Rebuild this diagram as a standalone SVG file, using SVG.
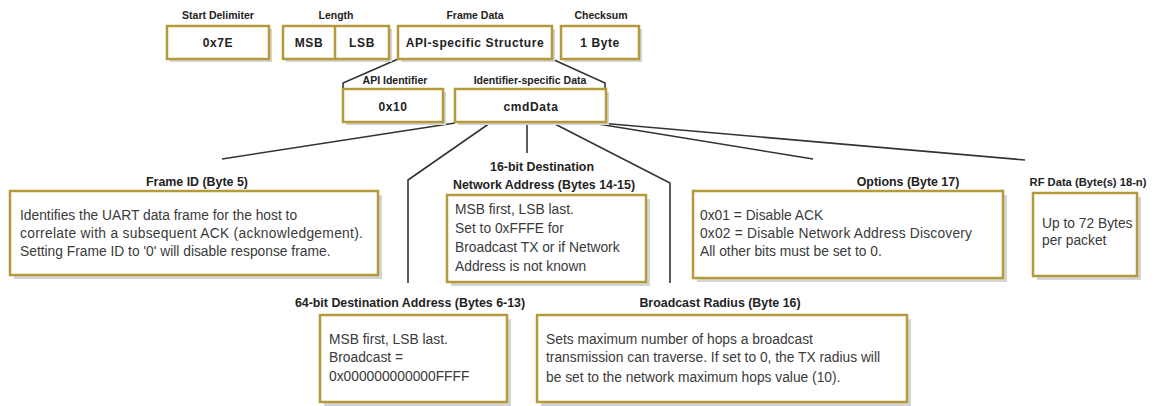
<svg xmlns="http://www.w3.org/2000/svg" width="1156" height="406" viewBox="0 0 1156 406">
<defs>
<style>
.box{fill:#ffffff;stroke:#b59a3c;stroke-width:2.5}
.sh{fill:#d4d4d4}
.conn{fill:none;stroke:#333333;stroke-width:1.6}
.ttl{font-family:"Liberation Sans",Arial,sans-serif;font-weight:bold;font-size:10.5px;fill:#222;text-anchor:middle}
.in{font-family:"Liberation Sans",Arial,sans-serif;font-weight:bold;font-size:12px;fill:#222;text-anchor:middle;letter-spacing:0.6px}
.lbl{font-family:"Liberation Sans",Arial,sans-serif;font-weight:bold;font-size:12.4px;fill:#222;text-anchor:middle}
.body{font-family:"Liberation Sans",Arial,sans-serif;font-size:13.8px;fill:#3a3a3a}
</style>
</defs>
<rect width="1156" height="406" fill="#ffffff"/>
<g id="connectors">
<polyline class="conn" points="398,59 343,83 343,89"/>
<polyline class="conn" points="552,59 605,83 605,89"/>
<polyline class="conn" points="455,123 222,159"/>
<polyline class="conn" points="490,123 408,180 408,283"/>
<polyline class="conn" points="527,123 527,153"/>
<polyline class="conn" points="553,123 670,183 670,283"/>
<polyline class="conn" points="592,123 813,159"/>
<polyline class="conn" points="600,123 1025,160"/>
</g>
<g id="start-delimiter">
<text class="ttl" x="218" y="19">Start Delimiter</text>
<rect class="sh" x="170" y="29" width="102" height="33"/>
<rect class="box" x="167" y="26" width="102" height="33"/>
<text class="in" x="218" y="47">0x7E</text>
</g>
<g id="length">
<text class="ttl" x="336" y="19">Length</text>
<rect class="sh" x="286" y="29" width="106" height="33"/>
<rect class="box" x="283" y="26" width="106" height="33"/>
<line x1="335" y1="26" x2="335" y2="59" stroke="#b59a3c" stroke-width="2.5"/>
<text class="in" x="309" y="47">MSB</text>
<text class="in" x="362" y="47">LSB</text>
</g>
<g id="frame-data">
<text class="ttl" x="475" y="19">Frame Data</text>
<rect class="sh" x="401" y="29" width="154" height="33"/>
<rect class="box" x="398" y="26" width="154" height="33"/>
<text class="in" x="475" y="47" letter-spacing="0.3">API-specific Structure</text>
</g>
<g id="checksum">
<text class="ttl" x="601" y="19">Checksum</text>
<rect class="sh" x="564" y="29" width="78" height="33"/>
<rect class="box" x="561" y="26" width="78" height="33"/>
<text class="in" x="600" y="47">1 Byte</text>
</g>
<g id="api-identifier">
<text class="ttl" x="395" y="84">API Identifier</text>
<rect class="sh" x="346" y="92" width="100" height="33"/>
<rect class="box" x="343" y="89" width="100" height="33"/>
<text class="in" x="393" y="111">0x10</text>
</g>
<g id="cmd-data">
<text class="ttl" x="530" y="84">Identifier-specific Data</text>
<rect class="sh" x="458" y="92" width="151" height="33"/>
<rect class="box" x="455" y="89" width="151" height="33"/>
<text class="in" x="531" y="111" letter-spacing="0.2">cmdData</text>
</g>
<g id="frame-id">
<text class="lbl" x="197" y="186">Frame ID (Byte 5)</text>
<rect class="sh" x="14" y="195" width="368" height="84"/>
<rect class="box" x="10" y="191" width="368" height="84"/>
<text class="body" x="20" y="220">Identifies the UART data frame for the host to</text>
<text class="body" x="20" y="238" letter-spacing="0.3">correlate with a subsequent ACK (acknowledgement).</text>
<text class="body" x="20" y="256">Setting Frame ID to '0' will disable response frame.</text>
</g>
<g id="dest16">
<text class="lbl" x="542" y="171">16-bit Destination</text>
<text class="lbl" x="544" y="189">Network Address (Bytes 14-15)</text>
<rect class="sh" x="451" y="199" width="199" height="87"/>
<rect class="box" x="447" y="195" width="199" height="87"/>
<text class="body" x="455" y="214">MSB first, LSB last.</text>
<text class="body" x="455" y="233">Set to 0xFFFE for</text>
<text class="body" x="455" y="252">Broadcast TX or if Network</text>
<text class="body" x="455" y="271">Address is not known</text>
</g>
<g id="options">
<text class="lbl" x="908" y="186">Options (Byte 17)</text>
<rect class="sh" x="697" y="195" width="310" height="87"/>
<rect class="box" x="693" y="191" width="310" height="87"/>
<text class="body" x="700" y="220">0x01 = Disable ACK</text>
<text class="body" x="700" y="238" letter-spacing="0.2">0x02 = Disable Network Address Discovery</text>
<text class="body" x="700" y="256">All other bits must be set to 0.</text>
</g>
<g id="rf-data">
<text class="lbl" x="1088" y="186" style="font-size:11.2px">RF Data (Byte(s) 18-n)</text>
<rect class="sh" x="1037" y="197" width="104" height="83"/>
<rect class="box" x="1033" y="193" width="104" height="83"/>
<text class="body" x="1042" y="228">Up to 72 Bytes</text>
<text class="body" x="1042" y="245">per packet</text>
</g>
<g id="dest64">
<text class="lbl" x="410" y="307">64-bit Destination Address (Bytes 6-13)</text>
<rect class="sh" x="324" y="319" width="187" height="87"/>
<rect class="box" x="320" y="315" width="187" height="87"/>
<text class="body" x="329" y="344">MSB first, LSB last.</text>
<text class="body" x="329" y="362">Broadcast =</text>
<text class="body" x="329" y="381">0x000000000000FFFF</text>
</g>
<g id="broadcast-radius">
<text class="lbl" x="720" y="307">Broadcast Radius (Byte 16)</text>
<rect class="sh" x="541" y="319" width="370" height="87"/>
<rect class="box" x="537" y="315" width="370" height="87"/>
<text class="body" x="546" y="344">Sets maximum number of hops a broadcast</text>
<text class="body" x="546" y="362">transmission can traverse. If set to 0, the TX radius will</text>
<text class="body" x="546" y="382">be set to the network maximum hops value (10).</text>
</g>
</svg>
